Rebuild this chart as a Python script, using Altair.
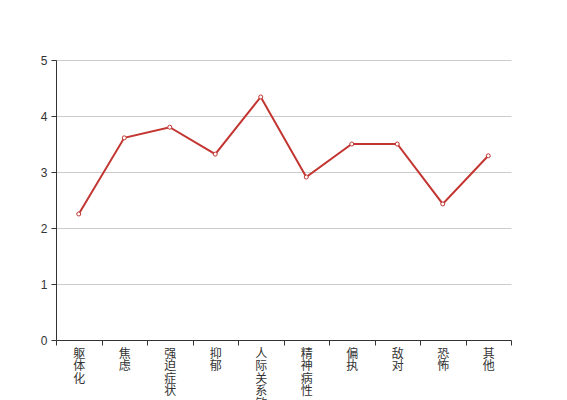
import altair as alt
import pandas as pd

categories = ["躯体化", "焦虑", "强迫症状", "抑郁", "人际关系敏感", "精神病性", "偏执", "敌对", "恐怖", "其他"]
values = [2.25, 3.61, 3.80, 3.32, 4.34, 2.91, 3.50, 3.50, 2.43, 3.29]

df = pd.DataFrame({"cat": categories, "val": values})

base = alt.Chart(df).encode(
    x=alt.X("cat:N", sort=categories, title=None,
            scale=alt.Scale(paddingInner=0, paddingOuter=0),
            axis=alt.Axis(labelAngle=0, labelExpr="split(datum.label, '')",
                          labelFont="Noto Sans CJK SC", labelFontSize=12,
                          labelLineHeight=12.5, labelColor="#333",
                          labelBaseline="top", labelPadding=3,
                          tickBand="extent", tickSize=5, tickColor="#333",
                          domainColor="#333", grid=False)),
    y=alt.Y("val:Q", title=None,
            scale=alt.Scale(domain=[0, 5], nice=False),
            axis=alt.Axis(values=[0, 1, 2, 3, 4, 5], tickSize=5, tickColor="#333",
                          domainColor="#333", labelColor="#333",
                          labelFont="sans-serif", labelFontSize=12, labelPadding=4,
                          gridColor="#ccc", gridOpacity=1)),
)

line = base.mark_line(color="#c23531", strokeWidth=2)
points = base.mark_point(shape="circle", filled=True, fill="white", stroke="#c23531",
                         strokeWidth=1, size=16, opacity=1)

chart = (line + points).properties(
    width=455, height=280,
    padding={"left": 48, "top": 52, "right": 40, "bottom": 90},
    autosize=alt.AutoSizeParams(type="none"),
).configure_view(stroke=None)

chart.save("out.html", embed_options={"renderer": "svg", "actions": False})
